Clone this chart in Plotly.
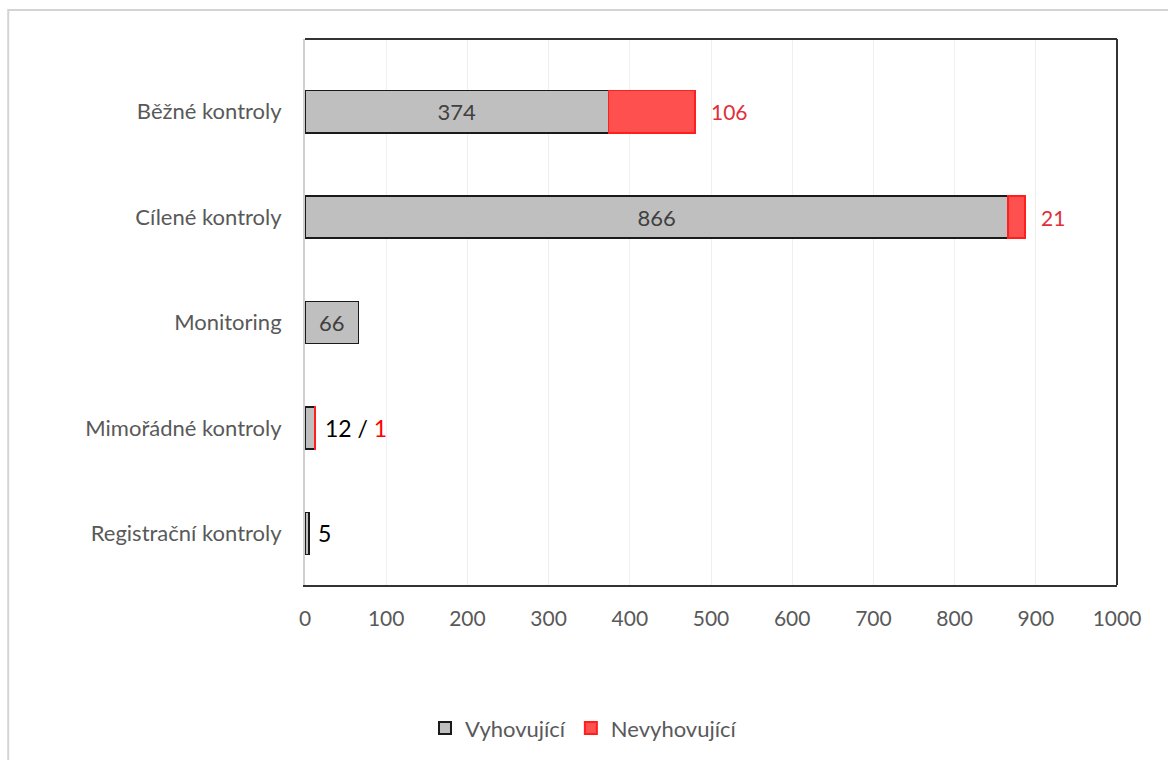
import plotly.graph_objects as go

# Výsledky kontrol podle typu
categories = ["Běžné kontroly", "Cílené kontroly", "Monitoring",
              "Mimořádné kontroly", "Registrační kontroly"]
vyhovujici = [374, 866, 66, 12, 5]
nevyhovujici = [106, 21, 0, 1, 0]
x_ticks = [0, 100, 200, 300, 400, 500, 600, 700, 800, 900, 1000]

GRAY_FILL = "#bfbfbf"
RED_FILL = "#ff5050"
RED_LINE = "#ff1f1f"
LABEL_RED = "#e0303a"
FONT = "Lato, Carlito, Calibri, sans-serif"

# labels inside grey bars only where the bar is wide enough
inside_text = [str(v) if v >= 50 else "" for v in vyhovujici]
# zero counts get no segment at all (avoids a hairline outline)
red_segments = [v if v > 0 else None for v in nevyhovujici]

fig = go.Figure()
fig.add_trace(go.Bar(
    name="Vyhovující", y=categories, x=vyhovujici, orientation="h",
    marker=dict(color=GRAY_FILL, line=dict(color="#1a1a1a", width=1.5)),
    text=inside_text, textposition="inside", insidetextanchor="middle",
    textfont=dict(family=FONT, size=22, color="#404040"),
    width=0.4,
))
fig.add_trace(go.Bar(
    name="Nevyhovující", y=categories, x=red_segments, orientation="h",
    marker=dict(color=RED_FILL, line=dict(color=RED_LINE, width=1.5)),
    width=0.4, textposition="none",
))

annotations = []
for cat, ok, bad in zip(categories, vyhovujici, nevyhovujici):
    total = ok + bad
    if ok >= 50 and bad > 0:
        txt = f"<span style='color:{LABEL_RED}'>{bad}</span>"
    elif ok < 50 and bad > 0:
        txt = f"{ok} / <span style='color:#ff0000'>{bad}</span>"
    elif ok < 50:
        txt = f"{ok}"
    else:
        continue
    big = ok >= 50
    annotations.append(dict(
        x=total, y=cat, xref="x", yref="y", text=txt, showarrow=False,
        xanchor="left", xshift=14 if big else 7,
        font=dict(family=FONT, size=21 if big else 23, color="#000000"),
    ))

shapes = [
    # outer chart frame
    dict(type="rect", xref="paper", yref="paper",
         x0=-0.3655, x1=1.2, y0=-0.5, y1=1.053,
         line=dict(color="#d4d4d4", width=2), layer="below"),
    # plot area border on top and right
    dict(type="line", xref="paper", yref="paper", x0=0, x1=1, y0=1, y1=1,
         line=dict(color="#333333", width=2)),
    dict(type="line", xref="paper", yref="paper", x0=1, x1=1, y0=0, y1=1,
         line=dict(color="#333333", width=2)),
]

fig.update_layout(
    barmode="stack",
    width=1168, height=760,
    margin=dict(l=305, r=51, t=39, b=174),
    paper_bgcolor="white", plot_bgcolor="white",
    font=dict(family=FONT, color="#595959"),
    showlegend=True,
    legend=dict(orientation="h", x=0.343, y=-0.26, xanchor="center",
                yanchor="middle", traceorder="normal",
                font=dict(family=FONT, size=22, color="#595959"),
                itemwidth=30, itemsizing="constant"),
    xaxis=dict(range=[0, 1000], tickvals=x_ticks, showgrid=True,
               gridcolor="#efefef", gridwidth=1, zeroline=False,
               showline=True, linecolor="#333333", linewidth=2,
               ticks="", ticklabelstandoff=14,
               tickfont=dict(family=FONT, size=21, color="#595959"),
               fixedrange=True),
    yaxis=dict(type="category", categoryorder="array", categoryarray=categories,
               range=[4.49, -0.69], showgrid=False, zeroline=False,
               showline=True, linecolor="#d0d0d0", linewidth=2,
               ticks="", ticklabelstandoff=17,
               tickfont=dict(family=FONT, size=22, color="#595959"),
               fixedrange=True),
    annotations=annotations,
    shapes=shapes,
    uniformtext=dict(mode=False),
)

fig.write_html("out.html")
